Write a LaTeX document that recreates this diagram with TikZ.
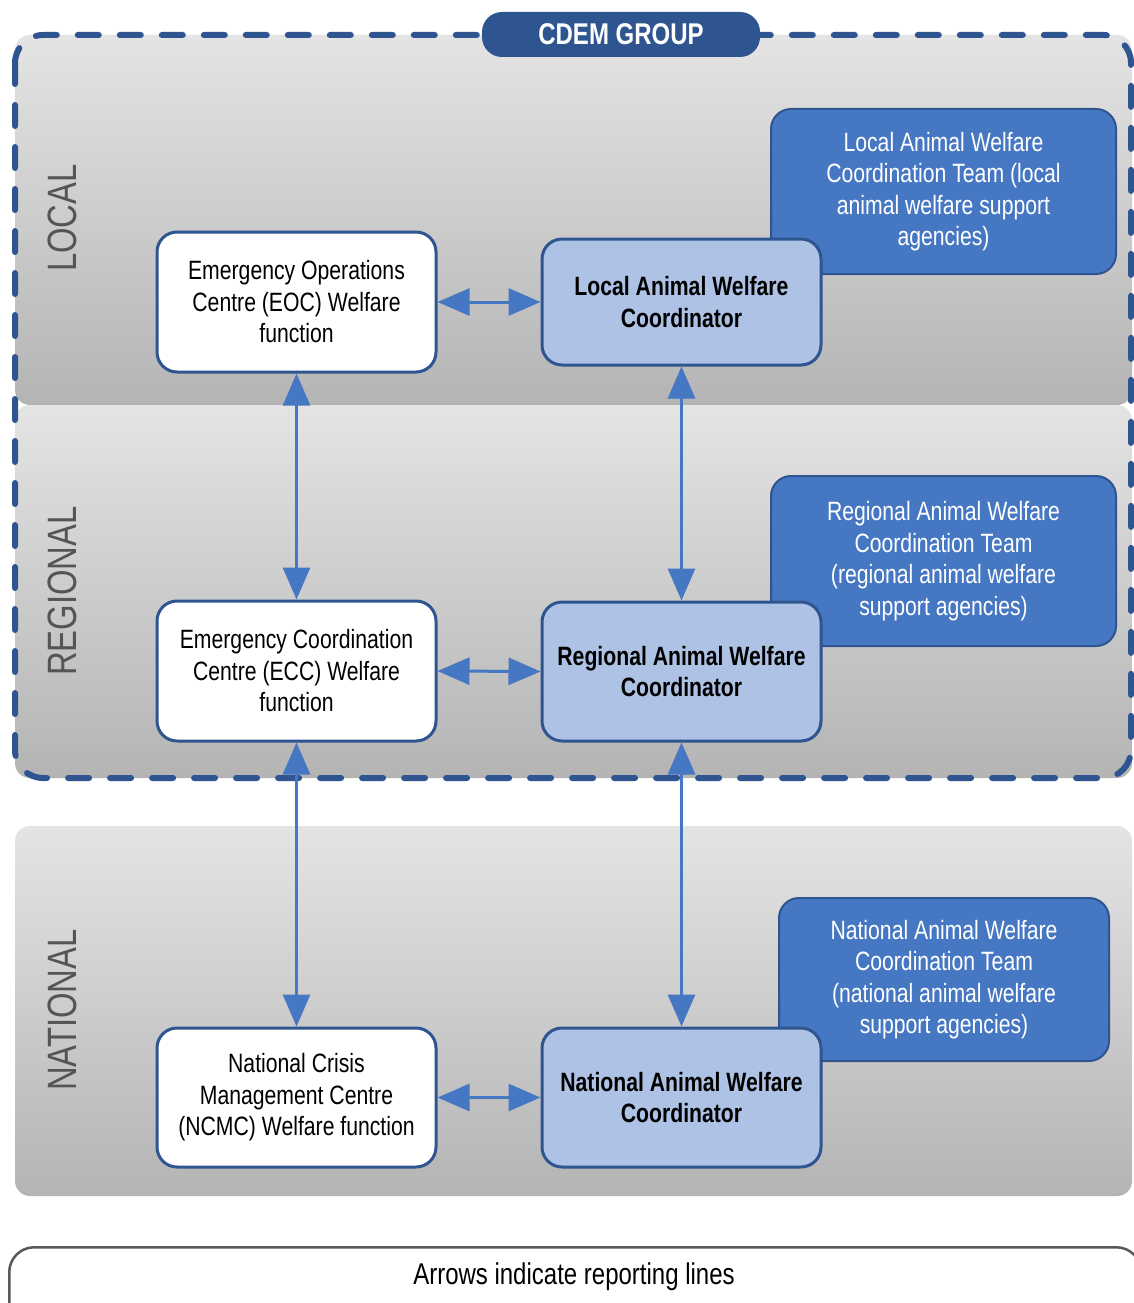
\documentclass[tikz,border=0pt]{standalone}
\usepackage{fontspec}
\setmainfont[FakeStretch=0.8]{Liberation Sans}
\usetikzlibrary{arrows.meta}

\definecolor{navy}{HTML}{2F5591}
\definecolor{midblue}{HTML}{4677C2}
\definecolor{paleblue}{HTML}{ADC2E4}
\definecolor{bandtop}{HTML}{E4E4E4}
\definecolor{bandbot}{HTML}{B4B4B4}
\definecolor{labelgrey}{HTML}{555555}

\tikzset{
  band/.style={top color=bandtop, bottom color=bandbot, rounded corners=15pt},
  fnbox/.style={draw=navy, line width=3pt, rounded corners=20pt, fill=white,
    minimum width=279pt, align=center, inner sep=2pt,
    font=\fontsize{26.5}{31.5}\selectfont},
  coordbox/.style={fnbox, fill=paleblue, font=\fontsize{26.5}{31.5}\selectfont\bfseries},
  teambox/.style={draw=navy, line width=2pt, rounded corners=20pt, fill=midblue,
    text=white, align=center, inner sep=2pt,
    font=\fontsize{26.5}{31.5}\selectfont},
  level/.style={rotate=90, text=labelgrey, font=\fontsize{41}{41}\selectfont},
  link/.style={draw=midblue, line width=3pt,
    {Triangle[length=32pt,width=27pt]}-{Triangle[length=32pt,width=27pt]}}
}

\begin{document}
\begin{tikzpicture}[x=1pt,y=-1pt]
\clip (0,0) rectangle (1134,1303);
\fill[white] (0,0) rectangle (1134,1303);

% tier bands
\shade[band] (15,35) rectangle (1132,405);
\shade[band] (15,405) rectangle (1132,778);
\shade[band] (15,826) rectangle (1132,1196);

% CDEM group outline and tab
\draw[navy, line width=6pt, dash pattern=on 21pt off 21pt, line cap=round,
      rounded corners=28pt] (15,35) rectangle (1131,778);
\node[fill=navy, rounded corners=20pt, minimum width=278pt, minimum height=45pt,
      text=white, font=\fontsize{30}{30}\selectfont\bfseries] (cdem) at (621,34.5) {CDEM GROUP};

% tier labels
\node[level] (lloc) at (62,218) {LOCAL};
\node[level] (lreg) at (62,591) {REGIONAL};
\node[level] (lnat) at (62,1010) {NATIONAL};

% support teams
\node[teambox, minimum width=345pt, minimum height=165pt] (tloc) at (943.5,191.5)
  {Local Animal Welfare\\Coordination Team (local\\animal welfare support\\agencies)};
\node[teambox, minimum width=345pt, minimum height=170pt] (treg) at (943.5,561)
  {Regional Animal Welfare\\Coordination Team\\(regional animal welfare\\support agencies)};
\node[teambox, minimum width=330pt, minimum height=163pt] (tnat) at (944,979.5)
  {National Animal Welfare\\Coordination Team\\(national animal welfare\\support agencies)};

% welfare functions
\node[fnbox, minimum height=140pt] (eoc) at (296.5,302)
  {Emergency Operations\\Centre (EOC) Welfare\\function};
\node[fnbox, minimum height=140pt] (ecc) at (296.5,671)
  {Emergency Coordination\\Centre (ECC) Welfare\\function};
\node[fnbox, minimum height=139pt] (ncmc) at (296.5,1097.5)
  {National Crisis\\Management Centre\\(NCMC) Welfare function};

% coordinators
\node[coordbox, minimum height=126pt] (lawc) at (681.5,302)
  {Local Animal Welfare\\Coordinator};
\node[coordbox, minimum height=139pt] (rawc) at (681.5,671.5)
  {Regional Animal Welfare\\Coordinator};
\node[coordbox, minimum height=139pt] (nawc) at (681.5,1097.5)
  {National Animal Welfare\\Coordinator};

% reporting lines
\draw[link] (eoc.east) -- (lawc.west);
\draw[link] (ecc.east) -- (rawc.west);
\draw[link] (ncmc.east) -- (nawc.west);
\draw[link] (eoc.south) -- (ecc.north);
\draw[link] (ecc.south) -- (ncmc.north);
\draw[link] (lawc.south) -- (rawc.north);
\draw[link] (rawc.south) -- (nawc.north);

% legend
\node[draw=black!65, line width=2.5pt, rounded corners=25pt, fill=white,
      minimum width=1132pt, minimum height=90pt, anchor=north west] (legend) at (8,1246) {};
\node[font=\fontsize{30}{34}\selectfont] (legtext) at (574,1277) {Arrows indicate reporting lines};
\end{tikzpicture}
\end{document}
